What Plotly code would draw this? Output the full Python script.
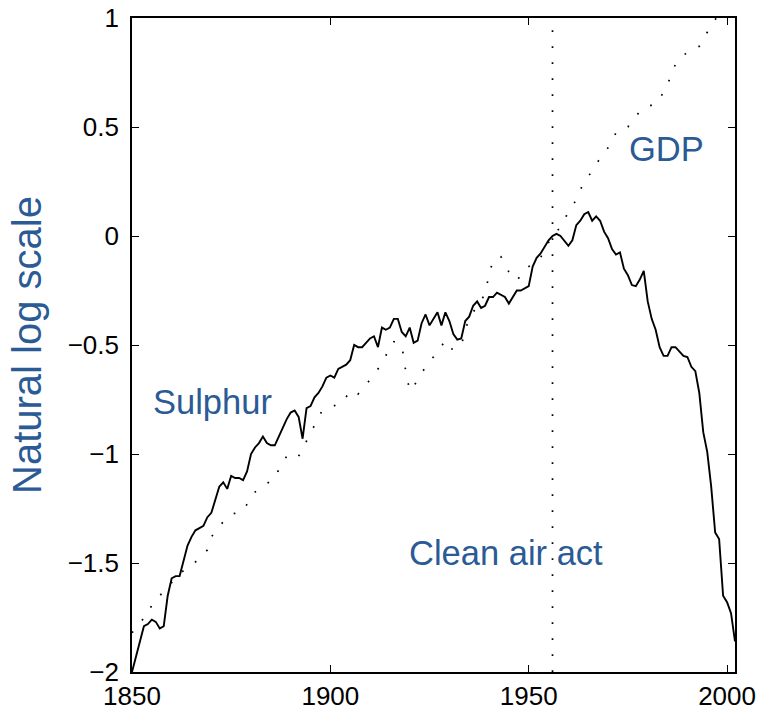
import plotly.graph_objects as go

years = list(range(1850, 2003))

sulphur = [
    -2.00, -1.93, -1.85, -1.79, -1.78, -1.76, -1.77, -1.80, -1.79, -1.65,  # 1850-1859
    -1.57, -1.56, -1.56, -1.49, -1.42, -1.38, -1.35, -1.34, -1.33, -1.29,  # 1860-1869
    -1.27, -1.21, -1.15, -1.13, -1.16, -1.10, -1.11, -1.11, -1.12, -1.08,  # 1870-1879
    -1.00, -0.97, -0.95, -0.92, -0.95, -0.96, -0.96, -0.92, -0.88, -0.84,  # 1880-1889
    -0.81, -0.80, -0.83, -0.93, -0.79, -0.78, -0.74, -0.72, -0.69, -0.65,  # 1890-1899
    -0.64, -0.65, -0.61, -0.60, -0.59, -0.57, -0.50, -0.51, -0.51, -0.49,  # 1900-1909
    -0.47, -0.46, -0.51, -0.42, -0.43, -0.42, -0.38, -0.38, -0.44, -0.46,  # 1910-1919
    -0.42, -0.49, -0.48, -0.40, -0.36, -0.41, -0.38, -0.35, -0.41, -0.35,  # 1920-1929
    -0.39, -0.45, -0.475, -0.47, -0.39, -0.37, -0.32, -0.30, -0.33, -0.32,  # 1930-1939
    -0.28, -0.28, -0.26, -0.27, -0.28, -0.31, -0.28, -0.25, -0.25, -0.24,  # 1940-1949
    -0.23, -0.14, -0.10, -0.08, -0.05, -0.02, 0.00, 0.01, 0.00, -0.02,     # 1950-1959
    -0.045, -0.02, 0.05, 0.07, 0.10, 0.11, 0.07, 0.09, 0.07, 0.02,         # 1960-1969
    -0.01, -0.06, -0.085, -0.075, -0.15, -0.18, -0.225, -0.23, -0.20, -0.16,  # 1970-1979
    -0.30, -0.38, -0.43, -0.51, -0.55, -0.55, -0.51, -0.51, -0.53, -0.55,  # 1980-1989
    -0.555, -0.60, -0.62, -0.72, -0.90, -0.99, -1.15, -1.36, -1.39, -1.65,  # 1990-1999
    -1.68, -1.73, -1.86,                                                   # 2000-2002
]

gdp = [
    -1.82, -1.80, -1.77, -1.755, -1.74, -1.69, -1.67, -1.65, -1.635, -1.61,  # 1850-1859
    -1.59, -1.57, -1.55, -1.535, -1.52, -1.51, -1.495, -1.48, -1.46, -1.44,  # 1860-1869
    -1.38, -1.36, -1.335, -1.31, -1.29, -1.277, -1.272, -1.268, -1.262, -1.23,  # 1870-1879
    -1.19, -1.175, -1.16, -1.145, -1.135, -1.125, -1.115, -1.07, -1.04, -1.01,  # 1880-1889
    -0.995, -1.00, -1.01, -0.98, -0.94, -0.90, -0.87, -0.83, -0.80, -0.795,  # 1890-1899
    -0.785, -0.78, -0.772, -0.765, -0.74, -0.71, -0.71, -0.725, -0.70, -0.68,  # 1900-1909
    -0.665, -0.64, -0.61, -0.58, -0.55, -0.50, -0.485, -0.49, -0.50, -0.62,  # 1910-1919
    -0.71, -0.69, -0.66, -0.63, -0.60, -0.57, -0.555, -0.53, -0.50, -0.48,  # 1920-1929
    -0.515, -0.52, -0.51, -0.505, -0.43, -0.38, -0.35, -0.32, -0.30, -0.26,  # 1930-1939
    -0.18, -0.11, -0.10, -0.095, -0.13, -0.165, -0.19, -0.205, -0.18, -0.15,  # 1940-1949
    -0.14, -0.13, -0.12, -0.10, -0.06, -0.03, -0.01, 0.02, 0.04, 0.07,     # 1950-1959
    0.115, 0.14, 0.165, 0.21, 0.25, 0.275, 0.295, 0.33, 0.355, 0.38,       # 1960-1969
    0.40, 0.43, 0.475, 0.49, 0.495, 0.50, 0.53, 0.55, 0.57, 0.59,          # 1970-1979
    0.595, 0.60, 0.605, 0.63, 0.66, 0.70, 0.735, 0.79, 0.81, 0.83,         # 1980-1989
    0.845, 0.85, 0.86, 0.87, 0.905, 0.935, 0.96, 0.99, 1.02, 1.05,         # 1990-1999
    1.08, 1.09, 1.10,                                                      # 2000-2002
]

clean_air_act_year = 1956
clean_air_line_y = [-2, 1]

x_tickvals = [1850, 1900, 1950, 2000]
x_ticktext = ["1850", "1900", "1950", "2000"]
y_tickvals = [-2, -1.5, -1, -0.5, 0, 0.5, 1]
y_ticktext = ["\u22122", "\u22121.5", "\u22121", "\u22120.5", "0", "0.5", "1"]

labels = ["Sulphur", "GDP", "Clean air act"]
label_x = [1870.3, 1984.8, 1944.3]
label_y = [-0.76, 0.40, -1.455]

BLUE = "#2b5b95"
FONT = "Liberation Sans, Arial, Helvetica, sans-serif"

fig = go.Figure()

fig.add_trace(go.Scatter(
    x=years, y=gdp, mode="lines",
    line=dict(color="black", width=1.7, dash="1.7px,14.3px"),
    hoverinfo="skip", showlegend=False,
))
fig.add_trace(go.Scatter(
    x=[clean_air_act_year, clean_air_act_year], y=clean_air_line_y, mode="lines",
    line=dict(color="black", width=1.7, dash="1.7px,14.3px"),
    hoverinfo="skip", showlegend=False,
))
fig.add_trace(go.Scatter(
    x=years, y=sulphur, mode="lines",
    line=dict(color="black", width=1.9),
    hoverinfo="skip", showlegend=False,
))

for t, lx, ly in zip(labels, label_x, label_y):
    fig.add_annotation(x=lx, y=ly, text=t, showarrow=False,
                       font=dict(family=FONT, size=34.5, color=BLUE),
                       xanchor="center", yanchor="middle")

axis_common = dict(
    showline=True, linecolor="black", linewidth=1.6, mirror="allticks",
    ticks="inside", ticklen=7, tickwidth=1.4, tickcolor="black",
    showgrid=False, zeroline=False, automargin=False,
    ticklabeloverflow="allow",
    tickfont=dict(family=FONT, size=26, color="black"),
)

fig.update_layout(
    width=761, height=714,
    margin=dict(l=131.5, r=26.3, t=17.5, b=42),
    paper_bgcolor="white", plot_bgcolor="white",
    xaxis=dict(range=[1850, 2002], tickvals=x_tickvals, ticktext=x_ticktext, **axis_common),
    yaxis=dict(range=[-2, 1], tickvals=y_tickvals, ticktext=y_ticktext,
               ticklabelstandoff=6,
               title=dict(text="Natural log scale", font=dict(family=FONT, size=40, color=BLUE), standoff=14),
               **axis_common),
)

# remove the default page margin so the 761x714 figure fills the window exactly
fig.write_html("out.html",
               config={"displayModeBar": False},
               post_script="document.body.style.margin='0';document.body.style.overflow='hidden';")
